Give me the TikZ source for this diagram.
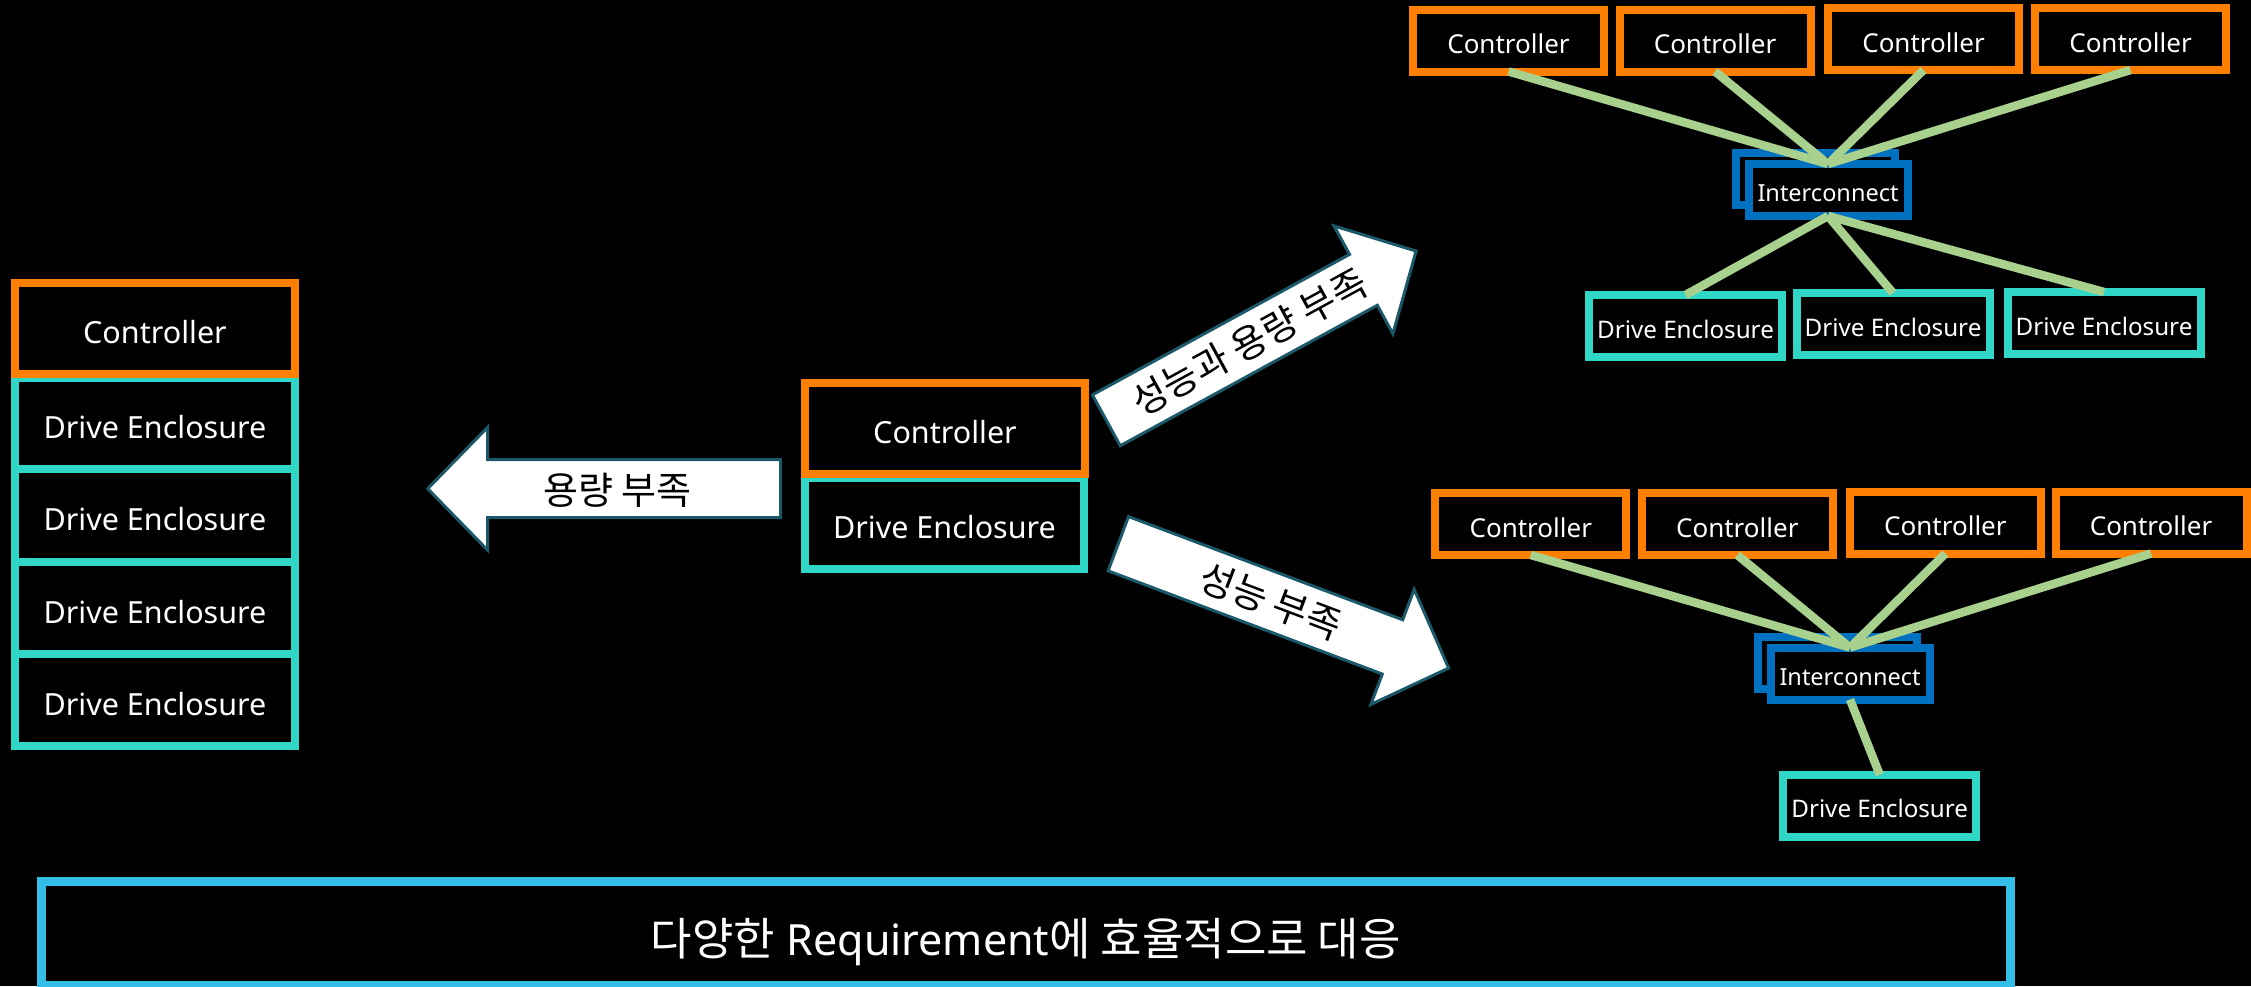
\documentclass[tikz,border=0pt]{standalone}
\usepackage{fontspec}
\setmainfont{Noto Sans}
\newfontfamily\kr{Noto Sans CJK KR}
\definecolor{ctrlorange}{HTML}{FF8000}
\definecolor{encteal}{HTML}{31D7C6}
\definecolor{icblue}{HTML}{0070C0}
\definecolor{linkgreen}{HTML}{A9D18E}
\definecolor{reqblue}{HTML}{32BEE6}
\definecolor{arrowteal}{HTML}{1B5868}
\begin{document}
\begin{tikzpicture}[x=1pt,y=-1pt,
  box/.style={draw, line width=8pt, fill=black, text=white, inner sep=0pt, outer sep=0pt,
    text depth=0pt},
  ctrl/.style={box, draw=ctrlorange},
  encl/.style={box, draw=encteal},
  bigtext/.style={font=\fontsize{30.5}{36}\selectfont, text height=30.5pt},
  ctrlbig/.style={ctrl, bigtext, minimum width=280pt, minimum height=91pt},
  enclbig/.style={encl, bigtext, minimum width=280pt},
  ctrlsm/.style={ctrl, minimum width=191pt, minimum height=62pt,
    font=\fontsize{26}{31}\selectfont, text height=26pt},
  enclsm/.style={encl, minimum width=193pt, minimum height=62pt,
    font=\fontsize{24.2}{29}\selectfont, text height=24.2pt},
  icbox/.style={box, draw=icblue, minimum width=159pt, minimum height=52pt,
    font=\fontsize{23.5}{28}\selectfont, text height=23.5pt},
  link/.style={draw=linkgreen, line width=8.5pt},
  arrowbody/.style={fill=white, draw=arrowteal, line width=3pt, line join=miter},
  arrowtext/.style={font=\kr\fontsize{38}{45}\selectfont, text=black, inner sep=0pt},
  reqbox/.style={draw=reqblue, line width=9pt, fill=black, text=white, inner sep=0pt,
    text height=44pt, text depth=0pt, font=\fontsize{45}{54}\selectfont}
]
% canvas
\fill[black] (0,0) rectangle (2251,986);
\useasboundingbox (0,0) rectangle (2251,986);

% ---- single controller with four enclosures (left) ----
\node[enclbig, minimum height=92pt]   (ld4) at (155,700)    {Drive Enclosure};
\node[enclbig, minimum height=92.5pt] (ld3) at (155,607.75) {Drive Enclosure};
\node[enclbig, minimum height=92.5pt] (ld2) at (155,515.25) {Drive Enclosure};
\node[enclbig, minimum height=91.5pt] (ld1) at (155,423.25) {Drive Enclosure};
\node[ctrlbig] (lc) at (155,328.5) {Controller};

% ---- base system (centre) ----
\node[encl, bigtext, minimum width=279pt, minimum height=91pt] (md) at (944.5,523) {Drive Enclosure};
\node[ctrlbig] (mc) at (945,428.5) {Controller};

% ---- scale-out: performance and capacity (top right) ----
\node[ctrlsm] (tc1) at (1508.5,40.5) {Controller};
\node[ctrlsm] (tc2) at (1715,40.5)   {Controller};
\node[ctrlsm] (tc3) at (1923.5,39)   {Controller};
\node[ctrlsm] (tc4) at (2130.5,39)   {Controller};
\node[icbox] (tib) at (1815,179) {};
\node[icbox] (ti)  at (1828,190) {Interconnect};
\node[enclsm] (td1) at (1685.5,326) {Drive Enclosure};
\node[enclsm] (td2) at (1893,324)   {Drive Enclosure};
\node[enclsm] (td3) at (2104,323)   {Drive Enclosure};
\foreach \c in {tc1,tc2,tc3,tc4} \draw[link] (\c.south) -- (ti.north);
\foreach \d in {td1,td2,td3} \draw[link] (ti.south) -- (\d.north);

% ---- scale-out: performance only (bottom right) ----
\node[ctrlsm] (bc1) at (1530.8,524)  {Controller};
\node[ctrlsm] (bc2) at (1737.3,524)  {Controller};
\node[ctrlsm] (bc3) at (1945.4,522.5) {Controller};
\node[ctrlsm] (bc4) at (2151,522.5)  {Controller};
\node[icbox] (bib) at (1837,662.5) {};
\node[icbox] (bi)  at (1850,673.5) {Interconnect};
\node[enclsm] (bd) at (1879.7,805.7) {Drive Enclosure};
\foreach \c in {bc1,bc2,bc3,bc4} \draw[link] (\c.south) -- (bi.north);
\draw[link] (bi.south) -- (bd.north);

% ---- block arrows ----
\begin{scope}[shift={(780.7,488.7)}, rotate=180]
  \draw[arrowbody] (0,-29) -- (293,-29) -- (293,-61.5) -- (353,0) -- (293,61.5) -- (293,29) -- (0,29) -- cycle;
\end{scope}
\begin{scope}[shift={(1106.3,420.3)}, rotate=28.65]
  \draw[arrowbody] (0,-29) -- (293,-29) -- (293,-61.5) -- (353,0) -- (293,61.5) -- (293,29) -- (0,29) -- cycle;
\end{scope}
\begin{scope}[shift={(1118.3,543.7)}, rotate=-20.63]
  \draw[arrowbody] (0,-29) -- (293,-29) -- (293,-61.5) -- (353,0) -- (293,61.5) -- (293,29) -- (0,29) -- cycle;
\end{scope}
\node[arrowtext] (capa) at (617.7,490) {용량 부족};
\node[arrowtext, rotate=28.65] (both) at (1249.3,342.2) {성능과 용량 부족};
\node[arrowtext, rotate=-20.63] (perf) at (1270.9,601.1) {성능 부족};

% ---- summary banner ----
\node[reqbox, minimum width=1969.5pt, minimum height=104pt] (req) at (1025.75,933)
  {{\kr 다양한} {\fontsize{43}{52}\selectfont Requirement}{\kr 에 효율적으로 대응}};
\end{tikzpicture}
\end{document}
